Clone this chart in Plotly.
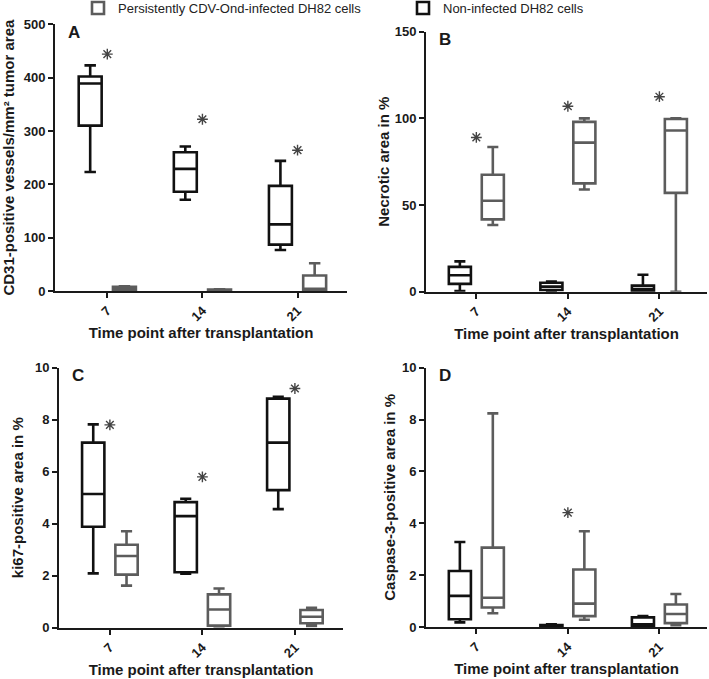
import plotly.graph_objects as go

W, H = 709, 679

categories = ["7", "14", "21"]

# ---- Panel A: CD31-positive vessels/mm² tumor area ----
a_non_low = [223, 171, 77]
a_non_q1 = [310, 186, 87]
a_non_med = [389, 229, 125]
a_non_q3 = [402, 260, 197]
a_non_up = [423, 271, 244]
a_inf_low = [0, 0, 0]
a_inf_q1 = [2, 0.5, 1]
a_inf_med = [5, 1, 4]
a_inf_q3 = [8, 2.5, 29]
a_inf_up = [9, 3, 52]
a_stars = [444, 322, 264]

# ---- Panel B: Necrotic area in % ----
b_non_low = [0.4, 0.3, 0]
b_non_q1 = [4.5, 1, 0.3]
b_non_med = [9.5, 2.9, 1.5]
b_non_q3 = [14.3, 5.2, 3.5]
b_non_up = [17.5, 5.8, 9.8]
b_inf_low = [38.5, 59, 0]
b_inf_q1 = [41.7, 62.5, 57]
b_inf_med = [52.5, 86, 93]
b_inf_q3 = [67.5, 98, 99.6]
b_inf_up = [83.5, 100, 100]
b_stars = [89, 107, 112.5]

# ---- Panel C: ki67-positive area in % ----
c_non_low = [2.09, 2.08, 4.56]
c_non_q1 = [3.88, 2.13, 5.29]
c_non_med = [5.14, 4.29, 7.12]
c_non_q3 = [7.12, 4.83, 8.81]
c_non_up = [7.82, 4.96, 8.88]
c_inf_low = [1.62, 0.05, 0.07]
c_inf_q1 = [2.04, 0.08, 0.17]
c_inf_med = [2.76, 0.7, 0.42]
c_inf_q3 = [3.19, 1.28, 0.68]
c_inf_up = [3.71, 1.51, 0.77]
c_stars = [7.8, 5.8, 9.2]

# ---- Panel D: Caspase-3-positive area in % ----
d_non_low = [0.18, 0, 0]
d_non_q1 = [0.3, 0.02, 0.03]
d_non_med = [1.2, 0.05, 0.1]
d_non_q3 = [2.16, 0.08, 0.37]
d_non_up = [3.28, 0.1, 0.42]
d_inf_low = [0.53, 0.28, 0.07]
d_inf_q1 = [0.75, 0.42, 0.15]
d_inf_med = [1.13, 0.9, 0.5]
d_inf_q3 = [3.06, 2.22, 0.87]
d_inf_up = [8.24, 3.69, 1.27]
d_stars = [None, 4.41, None]

legend_non = "Non-infected DH82 cells"
legend_inf = "Persistently CDV-Ond-infected DH82 cells"
x_title = "Time point after transplantation"

BLACK = "#111111"
GRAY = "#5c5c5c"
AXC = "#1a1a1a"
FONT = "Liberation Sans, Arial, sans-serif"

panels = [
    dict(letter="A", xa="x", ya="y", ytitle="CD31-positive vessels/mm² tumor area",
         yrange=[0, 500], dtick=100, ystand=8,
         non=(a_non_low, a_non_q1, a_non_med, a_non_q3, a_non_up),
         inf=(a_inf_low, a_inf_q1, a_inf_med, a_inf_q3, a_inf_up), stars=a_stars,
         px=(55, 347), py=(24.3, 291)),
    dict(letter="B", xa="x2", ya="y2", ytitle="Necrotic area in %",
         yrange=[0, 150], dtick=50, ystand=1,
         non=(b_non_low, b_non_q1, b_non_med, b_non_q3, b_non_up),
         inf=(b_inf_low, b_inf_q1, b_inf_med, b_inf_q3, b_inf_up), stars=b_stars,
         px=(426, 707), py=(31.7, 291.7)),
    dict(letter="C", xa="x3", ya="y3", ytitle="ki67-positive area in %",
         yrange=[0, 10], dtick=2, ystand=8,
         non=(c_non_low, c_non_q1, c_non_med, c_non_q3, c_non_up),
         inf=(c_inf_low, c_inf_q1, c_inf_med, c_inf_q3, c_inf_up), stars=c_stars,
         px=(59, 343), py=(367.7, 627.7)),
    dict(letter="D", xa="x4", ya="y4", ytitle="Caspase-3-positive area in %",
         yrange=[0, 10], dtick=2, ystand=3,
         non=(d_non_low, d_non_q1, d_non_med, d_non_q3, d_non_up),
         inf=(d_inf_low, d_inf_q1, d_inf_med, d_inf_q3, d_inf_up), stars=d_stars,
         px=(426, 707), py=(367.7, 627)),
]

fig = go.Figure()

for i, p in enumerate(panels):
    for name, stats, color, grp, leg in [(legend_non, p["non"], BLACK, "non", "legend2"),
                                         (legend_inf, p["inf"], GRAY, "inf", "legend")]:
        low, q1, med, q3, up = stats
        fig.add_trace(go.Box(
            x=categories, lowerfence=low, q1=q1, median=med, q3=q3, upperfence=up,
            name=name, legendgroup=name, showlegend=(i == 0), legend=leg,
            alignmentgroup=p["letter"], offsetgroup=grp,
            boxpoints=False, whiskerwidth=0.5,
            line=dict(color=color, width=2.6), fillcolor="rgba(255,255,255,0)",
            xaxis=p["xa"], yaxis=p["ya"],
        ))
    fig.add_trace(go.Scatter(
        x=categories, y=p["stars"], mode="markers", showlegend=False,
        marker=dict(symbol="asterisk-open", size=9, color="#444444",
                    line=dict(color="#444444", width=1.4)),
        xaxis=p["xa"], yaxis=p["ya"], hoverinfo="skip",
    ))

legend_common = dict(orientation="h", xref="container", yref="container",
                     xanchor="left", yanchor="middle", y=1 - 8 / H,
                     font=dict(family=FONT, size=13, color="#222222"),
                     bgcolor="rgba(0,0,0,0)", borderwidth=0)

layout = dict(
    width=W, height=H, margin=dict(l=0, r=0, t=0, b=0, autoexpand=False),
    paper_bgcolor="white", plot_bgcolor="white",
    boxmode="group", boxgap=0.28, boxgroupgap=0.33,
    font=dict(family=FONT, color=AXC),
    legend=dict(legend_common, x=78 / W),
    legend2=dict(legend_common, x=403 / W),
)

annotations = []
for p in panels:
    sfx = p["xa"][1:]
    xd = [p["px"][0] / W, p["px"][1] / W]
    yd = [1 - p["py"][1] / H, 1 - p["py"][0] / H]
    layout["xaxis" + sfx] = dict(
        domain=xd, anchor=p["ya"], type="category", range=[-0.55, 2.52],
        showline=True, linecolor=AXC, linewidth=2, ticks="outside", ticklen=5,
        tickwidth=2, tickcolor=AXC, tickangle=-45, showgrid=False, zeroline=False,
        tickfont=dict(family=FONT, size=13, weight="bold", color=AXC),
        title=dict(text=x_title, standoff=4,
                   font=dict(family=FONT, size=15, weight="bold", color=AXC)),
    )
    layout["yaxis" + sfx] = dict(
        domain=yd, anchor=p["xa"], range=p["yrange"], dtick=p["dtick"],
        showline=True, linecolor=AXC, linewidth=2, ticks="outside", ticklen=5,
        tickwidth=2, tickcolor=AXC, showgrid=False, zeroline=False,
        tickfont=dict(family=FONT, size=13, weight="bold", color=AXC),
        title=dict(text=p["ytitle"], standoff=p["ystand"],
                   font=dict(family=FONT, size=15, weight="bold", color=AXC)),
    )
    annotations.append(dict(
        text=p["letter"], xref="paper", yref="paper",
        x=(p["px"][0] + 11) / W, y=1 - (p["py"][0] + 8) / H,
        xanchor="left", yanchor="middle", showarrow=False,
        font=dict(family=FONT, size=17, weight="bold", color=AXC),
    ))
layout["annotations"] = annotations

fig.update_layout(**layout)
fig.write_html("out.html", config={"displayModeBar": False},
               post_script="document.body.style.margin='0';")
